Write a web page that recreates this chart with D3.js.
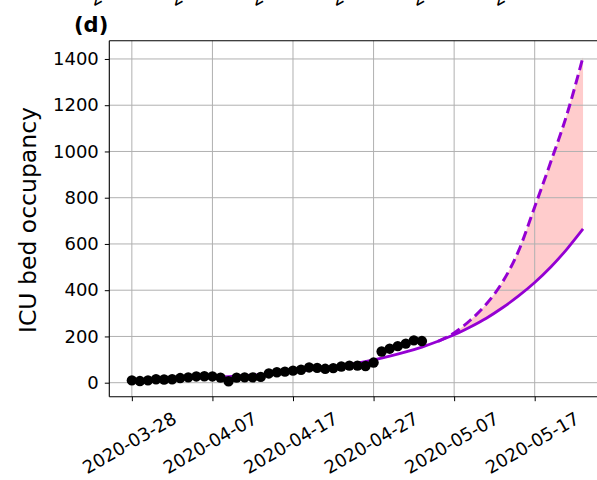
<!DOCTYPE html>
<html>
<head>
<meta charset="utf-8">
<script src="https://cdn.jsdelivr.net/npm/d3@7"></script>
<style>
  body { margin: 0; background: #fff; }
  svg { display: block; }
  text { font-family: "DejaVu Sans", sans-serif; }
</style>
</head>
<body>
<svg id="chart" width="597" height="480"></svg>
<script>
// Daily ICU bed occupancy, starting on this date
const startDate = "2020-03-28";
const observed = [10, 7, 10, 15, 14, 15, 20, 23, 27, 28, 27, 22, 6, 22, 23, 23, 25, 40,
                  45, 48, 52, 56, 66, 64, 60, 63, 70, 74, 74, 72, 87, 135, 147, 158, 169, 183, 180];

// Model projection (solid) — day offsets from startDate and values
const fitDays   = [0, 2, 4, 6, 8, 10, 12, 14, 16, 18, 20, 22, 24, 26, 28, 30, 32, 34, 36, 38,
                   40, 42, 44, 46, 48, 50, 52, 54, 56];
const fitValues = [11, 12.5, 14.5, 17, 19.5, 22.5, 26, 30, 35, 41, 47, 55, 63.5, 73.5, 85, 99,
                   115, 133, 154, 179, 207, 241, 279, 324, 375, 433, 500, 578, 665];

// Upper scenario (dashed)
const upperDays   = [38, 40, 42, 44, 46, 48, 50, 52, 54, 56];
const upperValues = [179, 215, 270, 340, 435, 570, 760, 955, 1160, 1409];

const yTicks = [0, 200, 400, 600, 800, 1000, 1200, 1400];
const xTickLabels = ["2020-03-28", "2020-04-07", "2020-04-17", "2020-04-27", "2020-05-07", "2020-05-17"];

const parse = d3.utcParse("%Y-%m-%d");
const t0 = parse(startDate);
const dayDate = d => d3.utcDay.offset(t0, d);
const dayMs = 864e5;

const svg = d3.select("#chart");
const W = 597, H = 480;
svg.append("rect").attr("width", W).attr("height", H).attr("fill", "#fff");

const plotLeft = 109.3, plotTop = 40.7, plotBottom = 396.7, plotRight = 605.6;

const x = d3.scaleUtc()
  .domain([new Date(t0.getTime() - 2.8 * dayMs), new Date(t0.getTime() + 58.8 * dayMs)])
  .range([plotLeft, plotRight]);
const y = d3.scaleLinear().domain([-60.6, 1479]).range([plotBottom, plotTop]);

const xTicks = xTickLabels.map(parse);

// Band between solid and dashed projections
const fitAt = new Map(fitDays.map((d, i) => [d, fitValues[i]]));
const band = upperDays.map((d, i) => ({ d, lo: fitAt.get(d), hi: upperValues[i] }));
svg.append("path")
  .datum(band)
  .attr("fill", "rgb(255,204,204)")
  .attr("d", d3.area()
    .x(p => x(dayDate(p.d)))
    .y0(p => y(p.lo))
    .y1(p => y(p.hi))
    .curve(d3.curveMonotoneX));

// Grid
const grid = svg.append("g").attr("stroke", "#b0b0b0").attr("stroke-width", 1);
grid.selectAll("line.v").data(xTicks).join("line")
  .attr("x1", d => x(d)).attr("x2", d => x(d))
  .attr("y1", plotTop).attr("y2", plotBottom);
grid.selectAll("line.h").data(yTicks).join("line")
  .attr("x1", plotLeft).attr("x2", W)
  .attr("y1", d => y(d)).attr("y2", d => y(d));

// Projection lines
const line = d3.line().curve(d3.curveMonotoneX);
svg.append("path")
  .attr("fill", "none").attr("stroke", "#9400d3").attr("stroke-width", 2.8)
  .attr("d", line(fitDays.map((d, i) => [x(dayDate(d)), y(fitValues[i])])));
svg.append("path")
  .attr("fill", "none").attr("stroke", "#9400d3").attr("stroke-width", 3)
  .attr("stroke-dasharray", "10,5")
  .attr("d", line(upperDays.map((d, i) => [x(dayDate(d)), y(upperValues[i])])));

// Observed points
svg.append("g").selectAll("circle").data(observed).join("circle")
  .attr("cx", (v, i) => x(dayDate(i)))
  .attr("cy", v => y(v))
  .attr("r", 5.2)
  .attr("fill", "#000");

// Axes
const xAxis = svg.append("g")
  .attr("transform", `translate(0,${plotBottom})`)
  .call(d3.axisBottom(x).tickValues(xTicks).tickFormat(d3.utcFormat("%Y-%m-%d"))
    .tickSizeInner(4.5).tickSizeOuter(0));
xAxis.select(".domain").remove();
xAxis.selectAll(".tick line").attr("stroke", "#000").attr("stroke-width", 1);
xAxis.selectAll(".tick text")
  .attr("font-size", 18).attr("fill", "#000")
  .attr("text-anchor", "middle").attr("dy", null).attr("y", null)
  .attr("dominant-baseline", "central")
  .attr("transform", "translate(-3,46) rotate(-30)");

const yAxis = svg.append("g")
  .attr("transform", `translate(${plotLeft},0)`)
  .call(d3.axisLeft(y).tickValues(yTicks).tickFormat(d3.format("d"))
    .tickSizeInner(4.5).tickSizeOuter(0).tickPadding(6));
yAxis.select(".domain").remove();
yAxis.selectAll(".tick line").attr("stroke", "#000");
yAxis.selectAll(".tick text").attr("font-size", 18).attr("fill", "#000");

// Frame
const frame = svg.append("g").attr("stroke", "#000").attr("stroke-width", 1.1).attr("fill", "none");
frame.append("line").attr("x1", plotLeft).attr("x2", plotLeft).attr("y1", plotTop).attr("y2", plotBottom);
frame.append("line").attr("x1", plotLeft).attr("x2", W).attr("y1", plotBottom).attr("y2", plotBottom);
frame.append("line").attr("x1", plotLeft).attr("x2", W).attr("y1", plotTop).attr("y2", plotTop);

// Y label
svg.append("text")
  .attr("transform", "translate(28,220) rotate(-90)")
  .attr("text-anchor", "middle").attr("dominant-baseline", "central")
  .attr("font-size", 23.5).attr("fill", "#000")
  .text("ICU bed occupancy");

// Panel tag
svg.append("text").attr("x", 74).attr("y", 32)
  .attr("font-size", 21).attr("font-weight", "bold").attr("fill", "#000")
  .text("(d)");

// Date labels of the panel above, cut by the top edge
svg.append("g").selectAll("text").data(xTicks).join("text")
  .attr("transform", d => `translate(${x(d) + 4},-25) rotate(-30)`)
  .attr("text-anchor", "middle").attr("dominant-baseline", "central")
  .attr("font-size", 18).attr("fill", "#000")
  .text(d3.utcFormat("%Y-%m-%d"));
</script>
</body>
</html>
